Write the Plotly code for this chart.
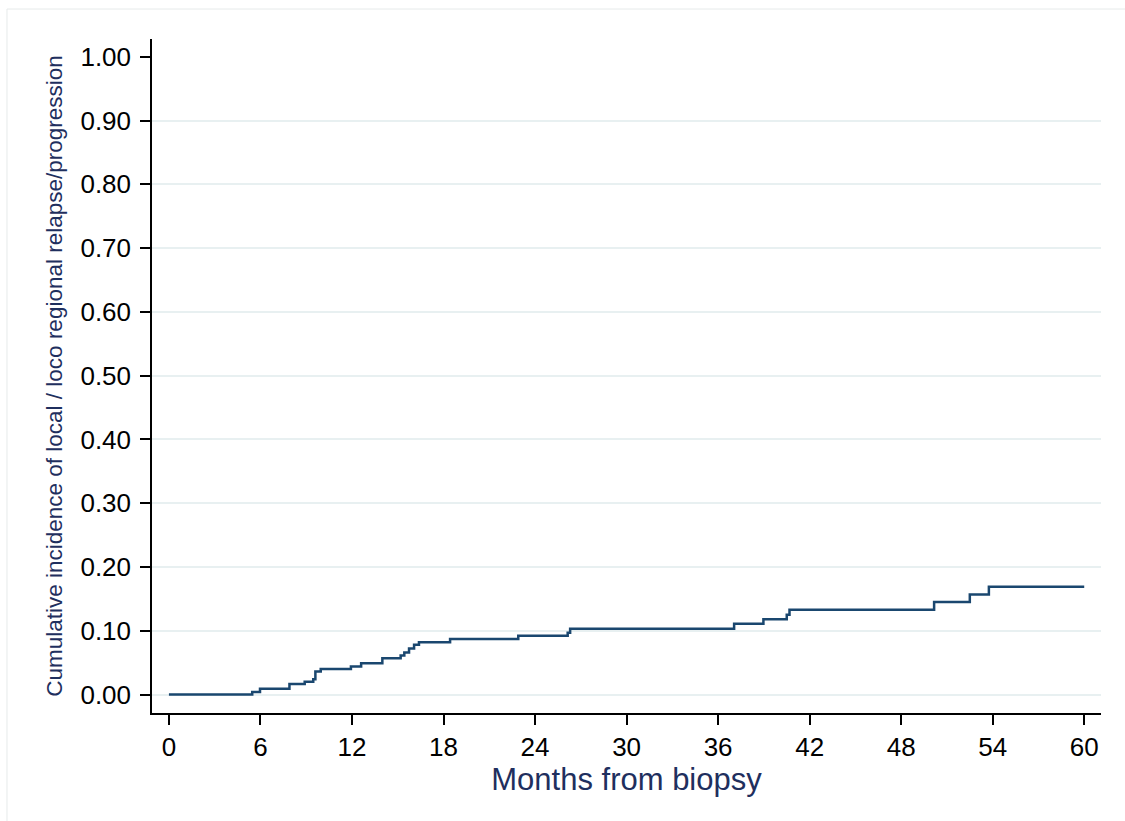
import plotly.graph_objects as go

# Data (step function, cumulative incidence)
months = [0, 5.46, 5.97, 7.9, 8.9, 9.46, 9.6, 9.95, 11.93, 12.6, 13.99, 15.19, 15.43,
          15.74, 16.07, 16.39, 18.43, 22.9, 26.14, 26.3, 37.05, 38.97, 40.5, 40.68,
          50.16, 52.5, 53.75, 60.0]
cum_inc = [0, 0.004, 0.009, 0.0165, 0.020, 0.024, 0.036, 0.040, 0.044, 0.049, 0.057,
           0.061, 0.066, 0.072, 0.078, 0.082, 0.087, 0.092, 0.097, 0.103, 0.111, 0.118,
           0.125, 0.133, 0.145, 0.157, 0.169, 0.169]

x_ticks = [0, 6, 12, 18, 24, 30, 36, 42, 48, 54, 60]
y_ticks = [0.0, 0.1, 0.2, 0.3, 0.4, 0.5, 0.6, 0.7, 0.8, 0.9, 1.0]
y_tick_text = [f"{v:.2f}" for v in y_ticks]
grid_vals = [0.0, 0.1, 0.2, 0.3, 0.4, 0.5, 0.6, 0.7, 0.8, 0.9]

x_title = "Months from biopsy"
y_title = "Cumulative incidence of local / loco regional relapse/progression"

FONT = "Liberation Sans, Arial, sans-serif"
NAVY = "#1f2f5e"
XR = [-1.11, 61.1]
YR = [-0.029, 1.028]

fig = go.Figure()
fig.add_trace(go.Scatter(
    x=months, y=cum_inc, mode="lines", line=dict(shape="hv", color="#1a476f", width=2.5),
    showlegend=False, hoverinfo="skip"))
# invisible trace on grid axis so it renders
fig.add_trace(go.Scatter(x=[None], y=[None], yaxis="y2", showlegend=False))

fig.update_layout(
    width=1125, height=821,
    margin=dict(l=152, r=24, t=39, b=108),
    paper_bgcolor="white", plot_bgcolor="white",
    font=dict(family=FONT, color="black"),
    xaxis=dict(
        range=XR, tickvals=x_ticks, ticktext=[str(v) for v in x_ticks],
        showgrid=False, zeroline=False, showline=True, linecolor="black", linewidth=1.5,
        ticks="outside", ticklen=10, tickwidth=1.5, tickcolor="black",
        tickfont=dict(size=26, color="black"),
        title=dict(text=x_title, font=dict(size=31, color=NAVY), standoff=1),
    ),
    yaxis=dict(
        range=YR, tickvals=y_ticks, ticktext=y_tick_text,
        showgrid=False, zeroline=False, showline=True, linecolor="black", linewidth=1.5,
        ticks="outside", ticklen=10, tickwidth=1.5, tickcolor="black",
        tickfont=dict(size=26, color="black"), ticklabelstandoff=4,
        title=dict(text=y_title, font=dict(size=22.5, color=NAVY), standoff=12),
    ),
    yaxis2=dict(
        range=YR, overlaying="y", tickvals=grid_vals, showticklabels=False,
        showgrid=True, gridcolor="#e8f0f1", gridwidth=2, zeroline=False,
        showline=False, ticks="", layer="below traces",
    ),
    shapes=[dict(type="rect", xref="paper", yref="paper",
                 x0=-0.1528, x1=1.04, y0=1.0445, y1=-0.2,
                 line=dict(color="#e6eaea", width=1), fillcolor="rgba(0,0,0,0)",
                 layer="below")],
)

fig.write_html(
    "out.html",
    config={"displayModeBar": False},
    post_script="document.body.style.margin='0';document.body.style.overflow='hidden';",
)
